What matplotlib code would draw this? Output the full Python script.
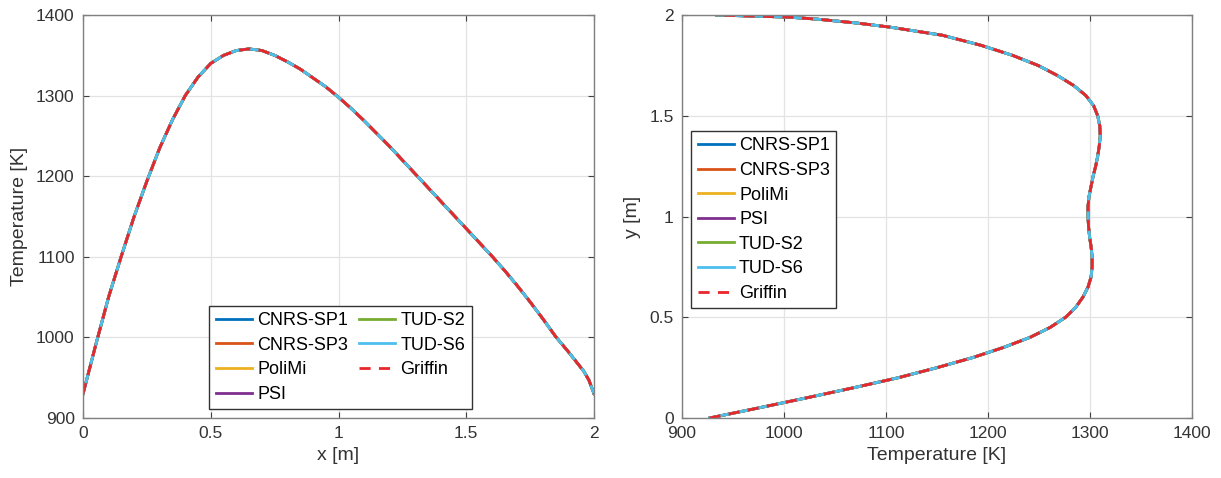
import matplotlib
matplotlib.use('Agg')
import matplotlib.pyplot as plt

plt.rcParams['font.family'] = ['Liberation Sans', 'DejaVu Sans']

# temperature along the horizontal centre line, T(x)
x_pos = [0.0, 0.05, 0.1, 0.15, 0.2, 0.25, 0.3, 0.35, 0.4, 0.45, 0.5, 0.55,
         0.6, 0.65, 0.7, 0.75, 0.8, 0.85, 0.9, 0.95, 1.0, 1.05, 1.1, 1.15,
         1.2, 1.25, 1.3, 1.35, 1.4, 1.45, 1.5, 1.55, 1.6, 1.65, 1.7, 1.75,
         1.8, 1.85, 1.9, 1.93, 1.96, 1.98, 2.0]
T_x = [930, 991, 1050, 1101, 1150, 1194, 1235, 1270, 1300, 1323, 1340, 1350,
       1356, 1358, 1356, 1350, 1342, 1333, 1322, 1311, 1298, 1284, 1269, 1253,
       1237, 1220, 1203, 1186, 1169, 1152, 1135, 1118, 1101, 1083, 1064, 1044,
       1023, 1001, 982, 970, 958, 947, 930]

# temperature along the vertical centre line, T(y)
y_pos = [0.0, 0.05, 0.1, 0.15, 0.2, 0.25, 0.3, 0.35, 0.4, 0.45, 0.5, 0.55,
         0.6, 0.65, 0.7, 0.75, 0.8, 0.85, 0.9, 0.95, 1.0, 1.05, 1.1, 1.15,
         1.2, 1.25, 1.3, 1.35, 1.4, 1.45, 1.5, 1.55, 1.6, 1.65, 1.7, 1.75,
         1.8, 1.85, 1.9, 1.94, 1.96, 1.98, 1.99, 2.0]
T_y = [927, 975, 1022, 1068, 1112, 1150, 1185, 1215, 1241, 1261, 1276, 1286,
       1293, 1298, 1301, 1302, 1302, 1301, 1299.5, 1298.5, 1298, 1298, 1299,
       1301, 1303, 1305.5, 1307.5, 1309, 1310, 1309.5, 1307.5, 1303.5, 1296,
       1284, 1268, 1249, 1224, 1193, 1155, 1104, 1072, 1032, 1003, 934]

codes = ['CNRS-SP1', 'CNRS-SP3', 'PoliMi', 'PSI', 'TUD-S2', 'TUD-S6']
colors = ['#0072BD', '#D95319', '#EDB120', '#7E2F8E', '#77AC30', '#4DBEEE']

fig = plt.figure(figsize=(12.21, 4.78), dpi=100)
ax1 = fig.add_axes([0.068, 0.1255, 0.4185, 0.843])
ax2 = fig.add_axes([0.5586, 0.1255, 0.4177, 0.843])

for name, c in zip(codes, colors):
    ax1.plot(x_pos, T_x, color=c, lw=2, label=name)
    ax2.plot(T_y, y_pos, color=c, lw=2, label=name)
ax1.plot(x_pos, T_x, color='#e8262b', lw=2, ls=(0, (4, 3)), label='Griffin')
ax2.plot(T_y, y_pos, color='#e8262b', lw=2, ls=(0, (4, 3)), label='Griffin')

def style(ax):
    ax.grid(True, color='#e3e3e3', lw=0.9)
    ax.set_axisbelow(True)
    for s in ax.spines.values():
        s.set_color('#808080')
        s.set_linewidth(1.0)
    ax.tick_params(direction='in', top=True, right=True, length=4,
                   color='#404040', labelsize=12.5, labelcolor='#333333', pad=6)

ax1.set_xlim(0, 2)
ax1.set_ylim(900, 1400)
ax1.set_xticks([0, 0.5, 1, 1.5, 2])
ax1.set_xticklabels(['0', '0.5', '1', '1.5', '2'])
ax1.set_yticks([900, 1000, 1100, 1200, 1300, 1400])
ax1.set_xlabel('x [m]', fontsize=14, color='#333333', labelpad=4)
ax1.set_ylabel('Temperature [K]', fontsize=14, color='#333333', labelpad=6)
style(ax1)

ax2.set_xlim(900, 1400)
ax2.set_ylim(0, 2)
ax2.set_xticks([900, 1000, 1100, 1200, 1300, 1400])
ax2.set_yticks([0, 0.5, 1, 1.5, 2])
ax2.set_yticklabels(['0', '0.5', '1', '1.5', '2'])
ax2.set_xlabel('Temperature [K]', fontsize=14, color='#333333', labelpad=4)
ax2.set_ylabel('y [m]', fontsize=14, color='#333333', labelpad=6)
style(ax2)

leg_kw = dict(fontsize=13, fancybox=False, framealpha=1, edgecolor='#333333',
              handlelength=2.0, handletextpad=0.3, labelspacing=0.42,
              borderaxespad=0, borderpad=0.35)
l1 = ax1.legend(ncol=2, loc='lower left', bbox_to_anchor=(0.247, 0.022),
                columnspacing=0.6, **leg_kw)
l2 = ax2.legend(loc='upper left', bbox_to_anchor=(0.018, 0.712), **leg_kw)
for l in (l1, l2):
    l.get_frame().set_linewidth(1.0)

fig.savefig('out.png', dpi=100)
